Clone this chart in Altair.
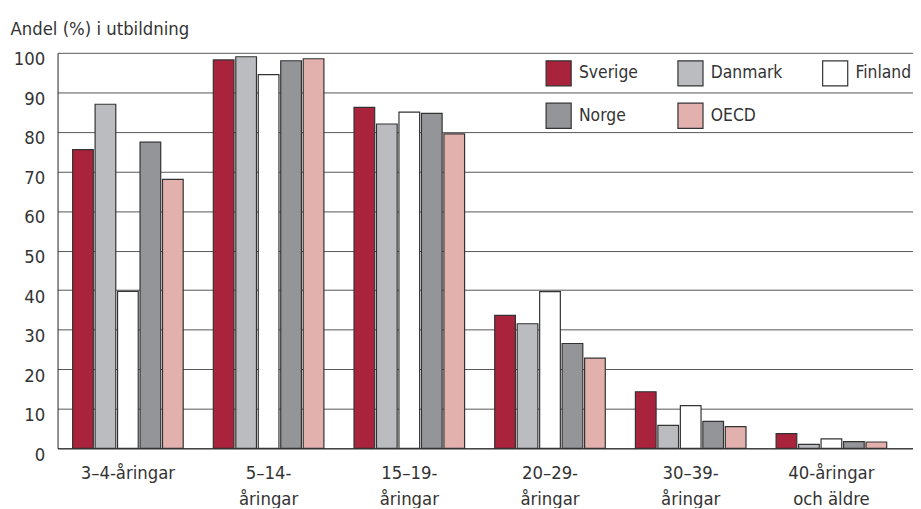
import altair as alt
import pandas as pd

categories = ["3–4-åringar", "5–14-|åringar", "15–19-|åringar", "20–29-|åringar", "30–39-|åringar", "40-åringar|och äldre"]
countries = ["Sverige", "Danmark", "Finland", "Norge", "OECD"]
colors = ["#A8233B", "#BBBCC0", "#FFFFFF", "#939598", "#E2B1AE"]

sverige = [75.5, 98.2, 86.2, 33.6, 14.3, 3.7]
danmark = [87.0, 99.0, 82.0, 31.5, 5.8, 1.0]
finland = [39.7, 94.5, 85.0, 39.6, 10.8, 2.4]
norge = [77.4, 98.0, 84.7, 26.5, 6.8, 1.7]
oecd = [68.0, 98.5, 79.5, 22.8, 5.5, 1.6]

series = [sverige, danmark, finland, norge, oecd]
rows = []
for c, vals in zip(countries, series):
    for cat, v in zip(categories, vals):
        rows.append({"Ålder": cat, "Land": c, "Andel": v})
df = pd.DataFrame(rows)

FONT = "'Liberation Sans Narrow', 'DejaVu Sans Condensed', 'Roboto', sans-serif"
FS = 18.5

chart = alt.Chart(df).mark_bar(stroke="#333333", strokeWidth=1.2).encode(
    x=alt.X("Ålder:N", sort=categories,
            scale=alt.Scale(paddingInner=0, paddingOuter=0.04, align=0),
            axis=alt.Axis(title=None, labelAngle=0, ticks=False, domainColor="#222222",
                          labelExpr="split(datum.label, '|')", labelLineHeight=27,
                          labelPadding=15, labelFontSize=FS, labelColor="#333333",
                          labelFont=FONT, labelBaseline="top")),
    xOffset=alt.XOffset("Land:N", sort=countries,
                        scale=alt.Scale(paddingInner=0.08, paddingOuter=0.67)),
    y=alt.Y("Andel:Q", scale=alt.Scale(domain=[0, 100], nice=False),
            axis=alt.Axis(values=list(range(0, 101, 10)), ticks=False, domainColor="#222222",
                          gridColor="#555555", gridWidth=1,
                          labelPadding=13, labelFontSize=FS, labelColor="#333333",
                          labelFont=FONT, labelOffset=6,
                          title="Andel (%) i utbildning", titleAngle=0, titleAlign="left",
                          titleBaseline="alphabetic", titleX=-48, titleY=-18,
                          titleFont=FONT, titleFontSize=FS, titleFontWeight="normal",
                          titleColor="#333333")),
    fill=alt.Fill("Land:N", sort=countries,
                  scale=alt.Scale(domain=countries, range=colors),
                  legend=alt.Legend(title=None, orient="none", legendX=492, legendY=7,
                                    direction="horizontal",
                                    columns=3, symbolType="square", symbolSize=640,
                                    symbolStrokeColor="#333333", symbolStrokeWidth=1.2,
                                    columnPadding=37, rowPadding=12, labelOffset=7,
                                    labelFontSize=17.5, labelColor="#333333", labelFont=FONT,
                                    padding=0)),
).properties(
    width=863, height=399,
    autosize=alt.AutoSizeParams(type="none"),
    padding={"left": 50, "top": 43, "right": 0, "bottom": 58},
).configure_view(stroke=None)

chart.save("out.html", embed_options={"renderer": "svg", "actions": False})
